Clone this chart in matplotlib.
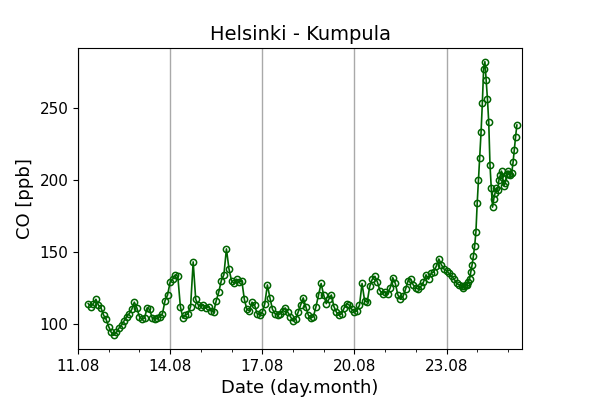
import numpy as np
import pandas as pd
import matplotlib
matplotlib.use('Agg')
import matplotlib.pyplot as plt
import matplotlib.dates as mdates

# CO at Kumpula, 2-hourly from 11.08 08:00 to 23.08 10:00
co_2h = [114, 112, 114, 117, 113, 111, 106, 103,                      # 11.08
         98, 94, 92, 94, 97, 99, 102, 105, 107, 110, 115, 111,         # 12.08
         105, 103, 104, 111, 110, 104, 103, 104, 105, 107, 116, 120,   # 13.08
         129, 131, 134, 133, 112, 104, 106, 107, 112, 143, 117, 113,   # 14.08
         112, 113, 111, 112, 109, 108, 116, 122, 130, 134, 152, 138,   # 15.08
         130, 128, 131, 129, 130, 117, 110, 109, 115, 113, 107, 106,   # 16.08
         108, 114, 127, 118, 110, 107, 106, 107, 109, 111, 108, 105,   # 17.08
         102, 103, 108, 113, 118, 112, 106, 104, 105, 112, 120, 128,   # 18.08
         120, 114, 117, 120, 112, 108, 106, 107, 111, 114, 113, 110,   # 19.08
         108, 109, 113, 128, 116, 115, 126, 131, 133, 129, 123, 121,   # 20.08
         122, 121, 125, 132, 128, 120, 117, 119, 124, 130, 131, 127,   # 21.08
         125, 124, 126, 129, 134, 131, 135, 136, 140, 145, 141, 138,   # 22.08
         137, 135, 133, 131, 128, 127]                                 # 23.08
# hourly from 23.08 12:00 to 25.08 07:00
co_1h = [126, 125, 126, 127, 127, 129, 131, 136, 141, 147, 154, 164,
         184, 200, 215, 233, 253, 277, 282, 269, 256, 240, 210, 194,
         181, 187, 191, 194, 193, 200, 203, 206, 201, 196, 198, 204,
         206, 204, 203, 205, 212, 221, 230, 238]

t_2h = pd.date_range('2017-08-11 08:00', periods=len(co_2h), freq='2h')
t_1h = pd.date_range('2017-08-23 12:00', periods=len(co_1h), freq='1h')
times = t_2h.append(t_1h)
co = np.array(co_2h + co_1h)

fig = plt.figure(figsize=(6, 4), dpi=100)
ax = fig.add_axes([0.13, 0.1275, 0.74, 0.7525])
ax.plot(times, co, '-o', color='darkgreen', mfc='none', mec='darkgreen',
        ms=4.5, lw=1.2, mew=1.1)

ax.set_xlim(pd.Timestamp('2017-08-11 00:00'), pd.Timestamp('2017-08-25 11:00'))
ax.xaxis.set_major_locator(mdates.DayLocator(bymonthday=[11, 14, 17, 20, 23]))
ax.xaxis.set_minor_locator(mdates.DayLocator())
ax.xaxis.set_major_formatter(mdates.DateFormatter('%d.%m'))
ax.xaxis.grid(True, which='major', color='darkgray', lw=1)
ax.set_yticks([100, 150, 200, 250])
ax.tick_params(labelsize=11)

ax.set_title('Helsinki - Kumpula', fontsize=14)
ax.set_xlabel('Date (day.month)', fontsize=13)
ax.set_ylabel('CO [ppb]', fontsize=13)

fig.savefig('out.png', dpi=100)
